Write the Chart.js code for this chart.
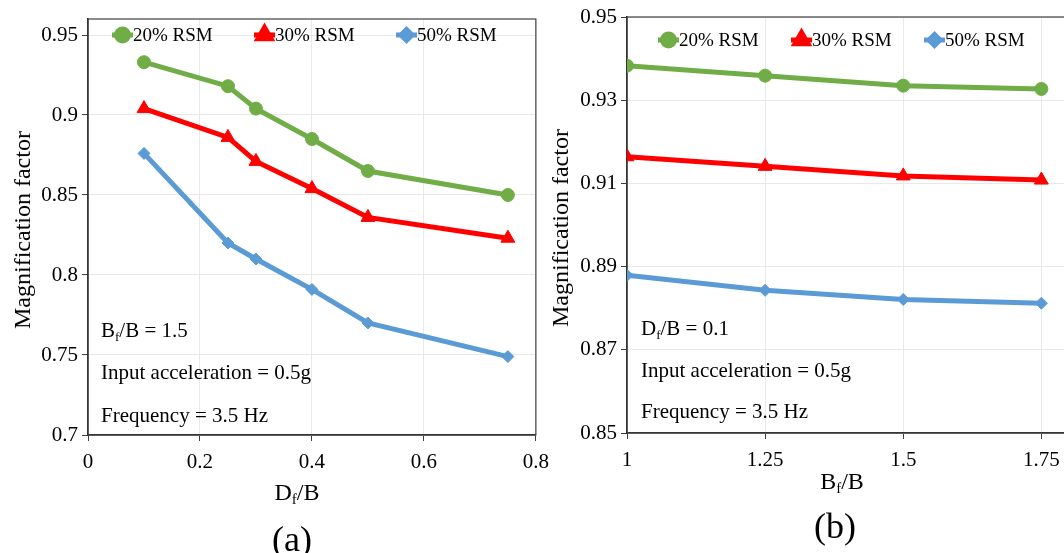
<!DOCTYPE html>
<html>
<head>
<meta charset="utf-8">
<script src="https://cdn.jsdelivr.net/npm/chart.js@4.4.1/dist/chart.umd.min.js"></script>
<style>
body { margin: 0; width: 1064px; height: 553px; overflow: hidden; background: #fff; position: relative; font-family: "Liberation Serif", "Times New Roman", serif; }
.box { position: absolute; }
.txt { position: absolute; white-space: nowrap; color: #000; font-size: 21px; line-height: 1; }
.mid { transform: translate(-50%, -50%); }
.rot { transform: translate(-50%, -50%) rotate(-90deg); font-size: 24px; }
.ttl { font-size: 24px; }
.cap { font-size: 36px; }
sub { font-size: 62%; vertical-align: -0.3em; line-height: 0; }
</style>
</head>
<body>
<div class="box" style="left:0;top:0;width:558px;height:490px"><canvas id="chartA"></canvas></div>
<div class="box" style="left:540px;top:0;width:540px;height:490px"><canvas id="chartB"></canvas></div>

<div class="txt rot" style="left:22px;top:230px">Magnification factor</div>
<div class="txt ttl mid" style="left:297px;top:492px">D<sub>f</sub>/B</div>
<div class="txt cap mid" style="left:292px;top:539px">(a)</div>
<div class="txt" style="left:101px;top:320px">B<sub>f</sub>/B = 1.5</div>
<div class="txt" style="left:101px;top:362px">Input acceleration = 0.5g</div>
<div class="txt" style="left:101px;top:405px">Frequency = 3.5 Hz</div>

<div class="txt rot" style="left:560px;top:228px">Magnification factor</div>
<div class="txt ttl mid" style="left:842px;top:481px">B<sub>f</sub>/B</div>
<div class="txt cap mid" style="left:835px;top:526px">(b)</div>
<div class="txt" style="left:641px;top:318px">D<sub>f</sub>/B = 0.1</div>
<div class="txt" style="left:641px;top:360px">Input acceleration = 0.5g</div>
<div class="txt" style="left:641px;top:401px">Frequency = 3.5 Hz</div>

<script>
// chart (a): magnification factor vs Df/B
const dfRatio = [0.1, 0.25, 0.3, 0.4, 0.5, 0.75];
const mfA20 = [0.933, 0.918, 0.904, 0.885, 0.865, 0.850];
const mfA30 = [0.904, 0.886, 0.871, 0.854, 0.836, 0.823];
const mfA50 = [0.876, 0.820, 0.810, 0.791, 0.770, 0.749];

// chart (b): magnification factor vs Bf/B
const bfRatio = [1, 1.25, 1.5, 1.75];
const mfB20 = [0.9383, 0.9359, 0.9335, 0.9327];
const mfB30 = [0.9164, 0.9141, 0.9118, 0.9108];
const mfB50 = [0.8879, 0.8843, 0.8821, 0.8812];

const ticksAX = [0, 0.2, 0.4, 0.6, 0.8];
const ticksAY = [0.7, 0.75, 0.8, 0.85, 0.9, 0.95];
const ticksBX = [1, 1.25, 1.5, 1.75];
const ticksBY = [0.85, 0.87, 0.89, 0.91, 0.93, 0.95];

const seriesNames = ['20% RSM', '30% RSM', '50% RSM'];
const seriesColors = ['#70AD47', '#FF0000', '#5B9BD5'];
const seriesMarkers = ['circle', 'triangle', 'rectRot'];
const markerSizes = [6.5, 8, 6];

const FONT = '"Liberation Serif", "Times New Roman", serif';

// legend drawn inside the plot area, Excel style (line + marker)
const insideLegend = {
    id: 'insideLegend',
    afterDatasetsDraw(chart, args, opts) {
        const ctx = chart.ctx;
        ctx.save();
        chart.data.datasets.forEach((ds, i) => {
            const x = opts.xs[i], y = opts.y;
            ctx.strokeStyle = ds.borderColor;
            ctx.fillStyle = ds.borderColor;
            ctx.lineWidth = 5;
            ctx.beginPath();
            ctx.moveTo(x, y);
            ctx.lineTo(x + 21, y);
            ctx.stroke();
            Chart.helpers.drawPoint(ctx, { pointStyle: ds.pointStyle, radius: ds.pointRadius - 0.5, rotation: 0, borderWidth: 1 }, x + 10.5, y);
            ctx.fillStyle = '#000';
            ctx.font = '19px ' + FONT;
            ctx.textBaseline = 'middle';
            ctx.fillText(ds.label, x + 21, y + 1);
        });
        ctx.restore();
    }
};

const plotBorder = {
    id: 'plotBorder',
    beforeDatasetsDraw(chart) {
        const { ctx, chartArea: a } = chart;
        ctx.save();
        ctx.strokeStyle = '#404040';
        ctx.lineWidth = 1.2;
        ctx.strokeRect(a.left, a.top, a.right - a.left, a.bottom - a.top);
        ctx.restore();
    }
};

const fmt = v => String(+v.toFixed(2));

function makeChart(id, xs, series, xr, yr, xTicks, yTicks, layout, legendPos) {
    const datasets = series.map((vals, i) => ({
        label: seriesNames[i],
        data: xs.map((x, k) => ({ x: x, y: vals[k] })),
        borderColor: seriesColors[i],
        backgroundColor: seriesColors[i],
        borderWidth: 5,
        pointStyle: seriesMarkers[i],
        pointRadius: markerSizes[i],
        pointBorderWidth: 1,
        tension: 0
    }));
    return new Chart(document.getElementById(id), {
        type: 'line',
        data: { datasets },
        plugins: [plotBorder, insideLegend],
        options: {
            responsive: true,
            maintainAspectRatio: false,
            animation: false,
            devicePixelRatio: 1,
            layout: { padding: layout.padding },
            plugins: {
                legend: { display: false },
                tooltip: { enabled: false },
                insideLegend: legendPos
            },
            scales: {
                x: {
                    type: 'linear',
                    min: xr[0], max: xr[1],
                    afterBuildTicks: s => { s.ticks = xTicks.map(v => ({ value: v })); },
                    afterFit: s => { s.height = layout.xh; },
                    grid: { color: '#e9e9e9', lineWidth: 1, tickLength: 6, tickColor: '#404040' },
                    border: { color: '#262626', width: 1.5 },
                    ticks: { color: '#000', font: { family: FONT, size: 21 }, padding: 9, maxRotation: 0, autoSkip: false, callback: fmt }
                },
                y: {
                    min: yr[0], max: yr[1],
                    afterBuildTicks: s => { s.ticks = yTicks.map(v => ({ value: v })); },
                    afterFit: s => { s.width = layout.yw; },
                    grid: { color: '#e9e9e9', lineWidth: 1, tickLength: 6, tickColor: '#404040' },
                    border: { color: '#262626', width: 1.5 },
                    ticks: { color: '#000', font: { family: FONT, size: 21 }, padding: 4, callback: fmt }
                }
            }
        }
    });
}

makeChart('chartA', dfRatio, [mfA20, mfA30, mfA50], [0, 0.8], [0.7, 0.96], ticksAX, ticksAY,
    { padding: { top: 19, right: 0, left: 0, bottom: 0 }, xh: 55, yw: 88 },
    { xs: [112, 254, 396], y: 35 });

makeChart('chartB', bfRatio, [mfB20, mfB30, mfB50], [1, 1.8], [0.85, 0.95], ticksBX, ticksBY,
    { padding: { top: 17, right: 11, left: 0, bottom: 0 }, xh: 57, yw: 87 },
    { xs: [118, 251, 384], y: 40 });
</script>
</body>
</html>
